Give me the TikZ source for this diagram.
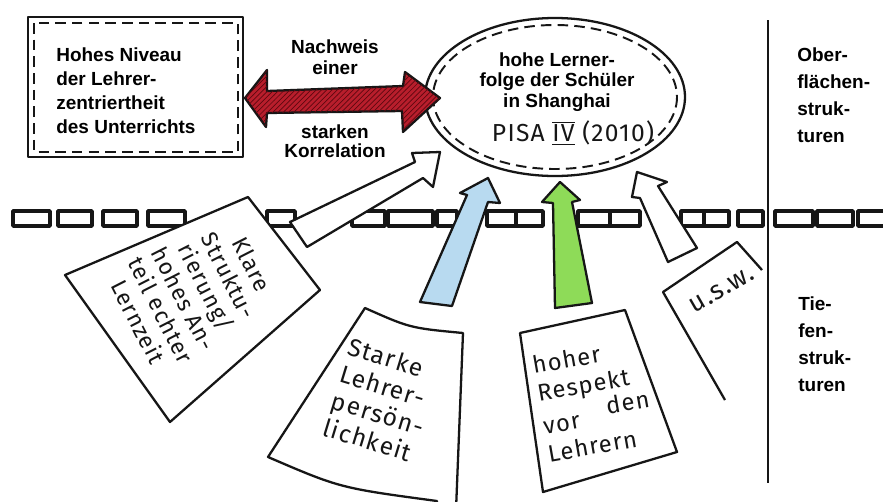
\documentclass[tikz,border=0pt]{standalone}
\usepackage{fontspec}
\setmainfont{Liberation Sans}
\newfontfamily\handfont[LetterSpace=5]{Fira Sans}
\usetikzlibrary{patterns}
\definecolor{Ink}{HTML}{161616}
\definecolor{ArrowRed}{HTML}{B81E2C}
\definecolor{HatchRed}{HTML}{5E0810}
\definecolor{ArrowBlue}{HTML}{B8DAF0}
\definecolor{ArrowGreen}{HTML}{8EDB58}
\newcommand{\RowBox}[2]{%
  \draw[Ink,line width=2pt,line join=round] (#1,211) rectangle (#2,226);%
}

\begin{document}
\begin{tikzpicture}[x=0.02cm,y=-0.02cm,
  sketch/.style={draw=Ink,line width=1.3pt,line join=round},
  dashline/.style={draw=Ink,line width=1.1pt,dash pattern=on 6pt off 3.5pt},
  boldtext/.style={font=\bfseries\fontsize{10.8}{13.6}\selectfont,align=center,inner sep=0pt},
  hand/.style={font=\handfont\fontsize{13}{15}\selectfont,align=center,inner sep=0pt,text=Ink}]
\useasboundingbox (0,0) rectangle (883,501);
\fill[white] (0,0) rectangle (883,501);
% Oberflaeche
\draw[sketch] (28,17) rectangle (243,157);
\draw[dashline] (34,23) rectangle (238,152);
\node[boldtext,align=left,anchor=west] (niveau) at (56,91) {Hohes Niveau\\der Lehrer-\\zentriertheit\\des Unterrichts};
\draw[sketch] (555,97) ellipse (130 and 79);
\draw[dashline] (555,97) ellipse (122 and 72);
\node[boldtext,font=\bfseries\fontsize{10.8}{11.8}\selectfont] (erfolg) at (557,82) {hohe Lerner-\\folge der Schüler\\in Shanghai};
\node[hand,font=\handfont\fontsize{14}{15}\selectfont] (pisa) at (573,133) {PISA $\overline{\underline{\mbox{IV}}}$ (2010)};
\draw[sketch,fill=ArrowRed,postaction={pattern=north east lines,pattern color=HatchRed}]
  (245,98) -- (267,70) -- (267,91) -- (403,86) -- (405,72) -- (440,98) -- (403,132)
  -- (402,111) -- (267,113) -- (266,127) -- cycle;
\node[boldtext,font=\bfseries\fontsize{10.8}{12}\selectfont] (nachweis) at (335,57) {Nachweis\\einer};
\node[boldtext,font=\bfseries\fontsize{10.8}{11}\selectfont] (korrelation) at (335,141) {starken\\Korrelation};
\draw[Ink,line width=1.1pt] (768,20) -- (768,483);
\node[boldtext,align=left,anchor=west,font=\bfseries\fontsize{10.8}{15.3}\selectfont] (ober) at (797,95) {Ober-\\flächen-\\struk-\\turen};
\node[boldtext,align=left,anchor=west,font=\bfseries\fontsize{10.8}{15.3}\selectfont] (tiefe) at (798,344) {Tie-\\fen-\\struk-\\turen};
% Grenze
\foreach \a/\b in {13/50,58/92,103/137,148/185,267/295,352/385,388/433,437/457,487/516,516/543,
  578/610,610/640,681/704,704/729,738/763,775/813,817/853,858/895} {
  \RowBox{\a}{\b}
}
% Tiefenstrukturen
\draw[sketch,fill=white] (65,275) -- (248,197) -- (320,290) -- (170,422) -- cycle;
\node[hand,font=\handfont\fontsize{13}{14.5}\selectfont,rotate=-63] (klare) at (195,293) {Klare\\Struktu-\\rierung/\\hohes An-\\teil echter\\Lernzeit};
\fill[white] (268,457) -- (365,308) .. controls (410,328) .. (463,333) -- (456,510) -- (437,510) -- cycle;
\draw[sketch] (437,510) -- (437,501) .. controls (340,488) .. (268,457) -- (365,308)
  .. controls (410,328) .. (463,333) -- (456,510);
\node[hand,font=\handfont\fontsize{14}{16}\selectfont,align=left,rotate=-17] (starke) at (382,400) {Starke\\Lehrer-\\persön-\\lichkeit};
\draw[sketch,fill=white] (520,333) -- (625,310) -- (677,452) -- (543,492) -- cycle;
\node[hand,font=\handfont\fontsize{13.5}{16}\selectfont,align=left,rotate=10] (respekt) at (594,400) {hoher\\Respekt\\vor\hspace{1.2em}\raisebox{0.7ex}{den}\\Lehrern};
\draw[sketch,fill=white] (762,270) -- (737,242) -- (663,292) -- (725,400);
\node[hand,font=\handfont\fontsize{15}{16}\selectfont,rotate=30] (usw) at (722,290) {u.s.w.};
% Pfeile
\draw[sketch,fill=white] (290,222) -- (415,162) -- (412,153) -- (440,152) -- (433,187)
  -- (423,178) -- (307,247) -- cycle;
\draw[sketch,fill=ArrowBlue] (420,302) -- (467,195) -- (460,193) -- (488,178) -- (500,203)
  -- (488,202) -- (452,306) -- cycle;
\draw[sketch,fill=ArrowGreen] (555,308) -- (553,203) -- (542,202) -- (560,182) -- (580,200)
  -- (572,202) -- (592,303) -- cycle;
\draw[sketch,fill=white] (668,262) -- (640,198) -- (632,197) -- (637,172) -- (667,182)
  -- (658,186) -- (697,248) -- cycle;
\end{tikzpicture}
\end{document}
